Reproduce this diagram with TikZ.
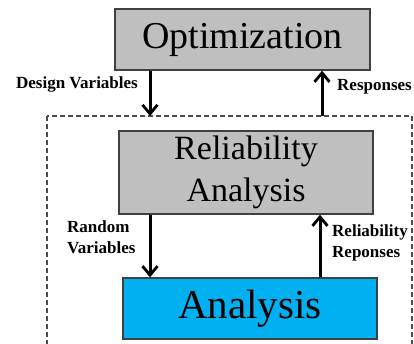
\documentclass[tikz,border=0pt]{standalone}
\usepackage{fontspec}
\setmainfont{Liberation Serif}
\usetikzlibrary{arrows.meta}
\begin{document}
\begin{tikzpicture}[x=1pt,y=-1pt,
  box/.style={draw=black!75, line width=1.4pt, inner sep=0pt},
  flow/.style={line width=3pt, -{Straight Barb[length=9pt,width=15pt,line width=2.8pt]}},
  lbl/.style={font=\fontsize{17}{21}\selectfont\bfseries, align=left, inner sep=0pt}]
\useasboundingbox (0,0) rectangle (414,343);
\clip (0,0) rectangle (414,343);

% dashed frame around the inner loop
\draw[black!70, line width=1.2pt, dash pattern=on 5pt off 3pt] (47,116) rectangle (412,360);

% blocks
\node[box, fill=black!25, minimum width=255pt, minimum height=61pt,
      font=\fontsize{38}{44}\selectfont] (opt) at (242.5,39.5) {Optimization};
\node[box, fill=black!25, minimum width=254pt, minimum height=83pt, align=center,
      font=\fontsize{34}{42}\selectfont] (rel) at (246,172.5) {Reliability\\Analysis};
\node[box, fill={rgb,255:red,0;green,176;blue,240}, minimum width=254pt, minimum height=61pt,
      font=\fontsize{41}{48}\selectfont] (ana) at (250,308.5) {Analysis};

% connector anchors on the frame
\coordinate (dvIn) at (150,116);
\coordinate (rsOut) at (322,116);
\coordinate (rrx) at (320,0);

% connectors
\draw[flow] (opt.south -| dvIn) -- (dvIn);
\draw[flow] (rsOut) -- (opt.south -| rsOut);
\draw[flow] (rel.south -| dvIn) -- (ana.north -| dvIn);
\draw[flow] (ana.north -| rrx) -- (rel.south -| rrx);

% labels
\node[lbl, anchor=east] (dvl) at (138,84) {Design Variables};
\node[lbl, anchor=west] (rsl) at (337,87) {Responses};
\node[lbl, anchor=west] (rvl) at (67,237.5) {Random\\Variables};
\node[lbl, anchor=west] (rrl) at (332,242.5) {Reliability\\Reponses};
\end{tikzpicture}
\end{document}
